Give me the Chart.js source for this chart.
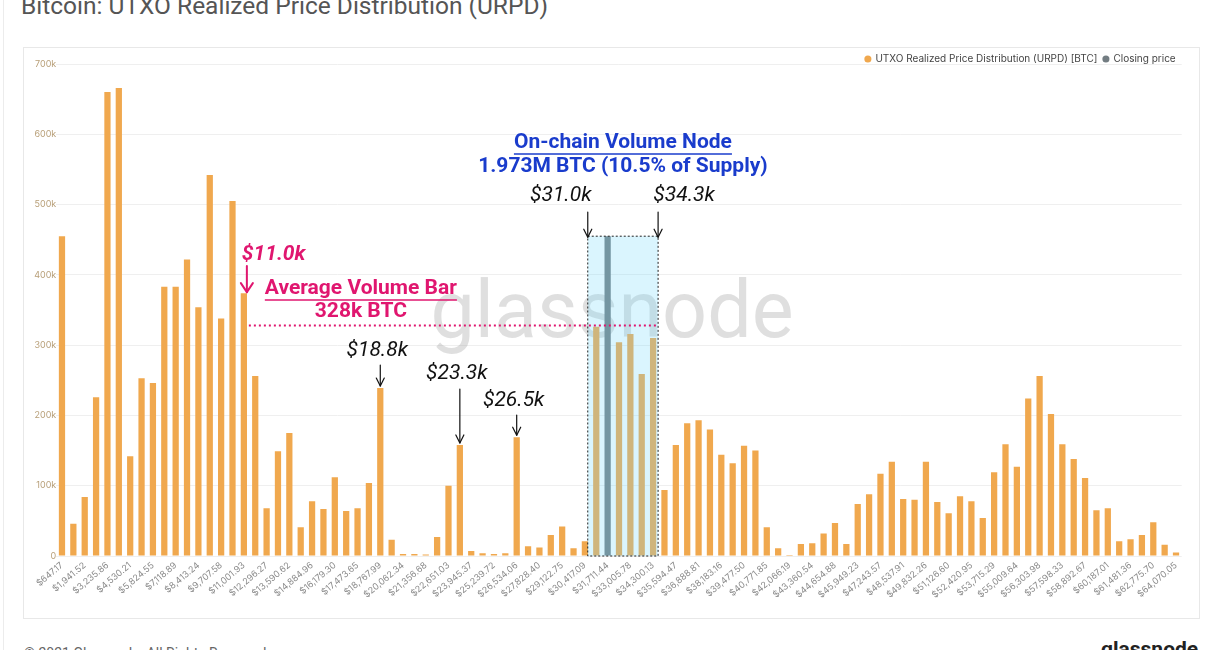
<!DOCTYPE html>
<html>
<head>
<meta charset="utf-8">
<script src="https://cdn.jsdelivr.net/npm/chart.js@4.4.1/dist/chart.umd.min.js"></script>
<style>
html,body{margin:0;padding:0;background:#fff;width:1222px;height:650px;overflow:hidden;font-family:Roboto,sans-serif}
#edge{position:absolute;left:3px;top:0;width:0;height:650px;border-left:1px solid #ececec}
#title{position:absolute;left:21px;top:-6px;font-size:24.5px;line-height:1;color:#555;white-space:nowrap}
#panel{position:absolute;left:23px;top:47px;width:1175px;height:570px;border:1px solid #e8e8e8}
#footer{position:absolute;left:24px;top:646px;font-size:14px;line-height:1;color:#666;white-space:nowrap}
#logo{position:absolute;left:1101px;top:639px;font-size:21px;font-weight:700;line-height:1;color:#222}
canvas{position:absolute;left:0;top:0}
</style>
</head>
<body>
<div id="edge"></div>
<div id="title">Bitcoin: UTXO Realized Price Distribution (URPD)</div>
<div id="panel"></div>
<div id="footer">© 2021 Glassnode. All Rights Reserved.</div>
<div id="logo">glassnode</div>
<canvas id="c" width="1222" height="650"></canvas>
<script>
const priceLabels = ["$647.17","$1,294.35","$1,941.52","$2,588.69","$3,235.86","$3,883.04","$4,530.21","$5,177.38","$5,824.55","$6,471.72",
"$7,118.89","$7,766.07","$8,413.24","$9,060.41","$9,707.58","$10,354.76","$11,001.93","$11,649.10","$12,296.27","$12,943.45",
"$13,590.62","$14,237.79","$14,884.96","$15,532.13","$16,179.30","$16,826.48","$17,473.65","$18,120.82","$18,767.99","$19,415.17",
"$20,062.34","$20,709.51","$21,356.68","$22,003.86","$22,651.03","$23,298.20","$23,945.37","$24,592.55","$25,239.72","$25,886.89",
"$26,534.06","$27,181.23","$27,828.40","$28,475.58","$29,122.75","$29,769.92","$30,417.09","$31,064.27","$31,711.44","$32,358.61",
"$33,005.78","$33,652.96","$34,300.13","$34,947.30","$35,594.47","$36,241.64","$36,888.81","$37,535.99","$38,183.16","$38,830.33",
"$39,477.50","$40,124.68","$40,771.85","$41,419.02","$42,066.19","$42,713.37","$43,360.54","$44,007.71","$44,654.88","$45,302.06",
"$45,949.23","$46,596.40","$47,243.57","$47,890.74","$48,537.91","$49,185.09","$49,832.26","$50,479.43","$51,126.60","$51,773.78",
"$52,420.95","$53,068.12","$53,715.29","$54,362.47","$55,009.64","$55,656.81","$56,303.98","$56,951.16","$57,598.33","$58,245.50",
"$58,892.67","$59,539.84","$60,187.01","$60,834.19","$61,481.36","$62,128.53","$62,775.70","$63,422.88","$64,070.05"];

const urpdValues = [455000,46000,84000,226000,660000,666000,142000,253000,246000,383000,
383000,422000,354000,542000,338000,505000,374000,256000,68000,149000,
175000,41000,78000,67000,112000,64000,68000,104000,239000,23000,
3000,3000,2000,27000,100000,158000,7000,4000,3000,4000,
169000,14000,12000,30000,42000,11000,21000,326000,null,304000,
316000,259000,310000,94000,158000,189000,193000,180000,144000,132000,
157000,150000,41000,11000,1500,17000,18000,32000,47000,17000,
74000,88000,117000,134000,81000,80000,134000,77000,61000,85000,
78000,54000,119000,159000,127000,224000,256000,202000,159000,138000,
111000,65000,68000,21000,24000,30000,48000,16000,5000];

const closingIndex = 48;
const closingValue = 455000;
const closingValues = priceLabels.map((_, i) => i === closingIndex ? closingValue : null);

const averageVolume = 328000;
const yTicks = [0,100000,200000,300000,400000,500000,600000,700000];

const ORANGE = 'rgb(240,168,78)';
const GRAY = '#737d82';
const PINK = '#e0166f';
const BLUE = '#1a3ccc';

function arrow(ctx, x, y1, y2, color, lw, hw, hh) {
  ctx.save();
  ctx.strokeStyle = color; ctx.lineWidth = lw; ctx.lineCap = 'round'; ctx.lineJoin = 'round';
  ctx.beginPath(); ctx.moveTo(x, y1); ctx.lineTo(x, y2); ctx.stroke();
  ctx.beginPath(); ctx.moveTo(x - hw, y2 - hh); ctx.lineTo(x, y2); ctx.lineTo(x + hw, y2 - hh); ctx.stroke();
  ctx.restore();
}
function text(ctx, s, x, y, font, color, align, underline) {
  ctx.save();
  ctx.font = font; ctx.fillStyle = color; ctx.textAlign = align || 'center'; ctx.textBaseline = 'middle';
  ctx.fillText(s, x, y);
  if (underline) {
    const w = ctx.measureText(s).width;
    let x0 = align === 'left' ? x : x - w / 2;
    ctx.strokeStyle = color; ctx.lineWidth = 1.6;
    ctx.beginPath(); ctx.moveTo(x0, y + 11); ctx.lineTo(x0 + w, y + 11); ctx.stroke();
  }
  ctx.restore();
}

const watermark = {
  id: 'watermark',
  beforeDatasetsDraw(chart) {
    const ctx = chart.ctx;
    ctx.save();
    ctx.font = '400 79px Roboto';
    ctx.fillStyle = 'rgba(150,150,150,0.3)';
    ctx.textAlign = 'center'; ctx.textBaseline = 'alphabetic';
    ctx.fillText('glassnode', 612, 337);
    ctx.restore();
  }
};

const legendShift = {
  id: 'legendShift',
  afterLayout(chart) {
    if (chart.legend) { chart.legend.top += 10; chart.legend.bottom += 10; }
  }
};

const annotations = {
  id: 'annotations',
  afterDatasetsDraw(chart) {
    const ctx = chart.ctx, xs = chart.scales.x, ys = chart.scales.y;
    const px = i => xs.getPixelForValue(i), py = v => ys.getPixelForValue(v);

    // volume node box
    const bl = px(47) - 8.5, br = px(52) + 5, bt = py(closingValue), bb = py(0);
    ctx.save();
    ctx.fillStyle = 'rgba(120,218,250,0.27)';
    ctx.fillRect(bl, bt, br - bl, bb - bt);
    ctx.strokeStyle = '#222'; ctx.lineWidth = 1; ctx.setLineDash([2, 2]);
    ctx.strokeRect(bl, bt, br - bl, bb - bt);
    ctx.restore();

    // average volume dotted line
    const ay = py(averageVolume);
    ctx.save();
    ctx.strokeStyle = PINK; ctx.lineWidth = 2; ctx.setLineDash([2, 3]);
    ctx.beginPath(); ctx.moveTo(px(16) + 5, ay); ctx.lineTo(br, ay); ctx.stroke();
    ctx.restore();

    // $11.0k
    const x16 = px(16), y16 = py(urpdValues[16]);
    text(ctx, '$11.0k', x16 - 2, 255, 'italic bold 21px Roboto', PINK, 'left');
    arrow(ctx, x16 + 3, 266, y16 - 1, PINK, 2, 6, 9);
    text(ctx, 'Average Volume Bar', x16 + 117, 289, 'bold 21px Roboto', PINK, 'center', true);
    text(ctx, '328k BTC', x16 + 117, 312, 'bold 21px Roboto', PINK, 'center');

    // node labels
    const bc = (bl + br) / 2;
    text(ctx, 'On-chain Volume Node', bc, 143, 'bold 21px Roboto', BLUE, 'center', true);
    text(ctx, '1.973M BTC (10.5% of Supply)', bc, 167, 'bold 21px Roboto', BLUE, 'center');

    const IT = 'italic 21px Roboto';
    text(ctx, '$31.0k', bl - 27, 196, IT, '#111');
    arrow(ctx, bl, 212, bt + 1, '#111', 1.2, 4, 8);
    text(ctx, '$34.3k', br + 26, 196, IT, '#111');
    arrow(ctx, br, 212, bt + 1, '#111', 1.2, 4, 8);

    const callouts = [[28, 351, 365], [35, 374, 389], [40, 401, 415]];
    const names = ['$18.8k', '$23.3k', '$26.5k'];
    callouts.forEach((c, k) => {
      const x = px(c[0]), y = py(urpdValues[c[0]]);
      text(ctx, names[k], x - 3, c[1], IT, '#111');
      arrow(ctx, x, c[2], y - 2, '#111', 1.2, 4, 8);
    });
  }
};

new Chart(document.getElementById('c'), {
  type: 'bar',
  data: {
    labels: priceLabels,
    datasets: [
      { label: 'UTXO Realized Price Distribution (URPD) [BTC]', data: urpdValues, backgroundColor: ORANGE,
        barPercentage: 0.55, categoryPercentage: 1, grouped: false },
      { label: 'Closing price', data: closingValues, backgroundColor: GRAY,
        barPercentage: 0.55, categoryPercentage: 1, grouped: false }
    ]
  },
  options: {
    responsive: false,
    animation: false,
    layout: { padding: { left: 24, right: 40.3, top: 38, bottom: 34 } },
    plugins: {
      tooltip: { enabled: false },
      legend: {
        position: 'top', align: 'end',
        labels: { usePointStyle: true, pointStyle: 'circle', boxWidth: 5, boxHeight: 5, padding: 6,
          color: '#444', font: { family: 'Inter', size: 10 } }
      }
    },
    scales: {
      x: {
        offset: true,
        grid: { display: false, drawTicks: false },
        border: { display: false },
        ticks: {
          autoSkip: false, maxRotation: 40, minRotation: 40, padding: 4,
          color: '#8a8a8a', font: { family: 'Inter', size: 9 },
          callback: function (v, i) { return i % 2 === 0 ? this.getLabelForValue(v) : ''; }
        },
        afterFit: s => { s.height = 60; }
      },
      y: {
        min: 0, max: 700000,
        afterBuildTicks: s => { s.ticks = yTicks.map(v => ({ value: v })); },
        grid: { color: '#efefef', drawTicks: false },
        border: { display: false },
        ticks: {
          padding: 0, color: '#b89f78', font: { family: 'Inter', size: 9 },
          callback: v => v === 0 ? '0' : (v / 1000) + 'k'
        },
        afterFit: s => { s.width = 32.3; }
      }
    }
  },
  plugins: [watermark, legendShift, annotations]
});
</script>
</body>
</html>
